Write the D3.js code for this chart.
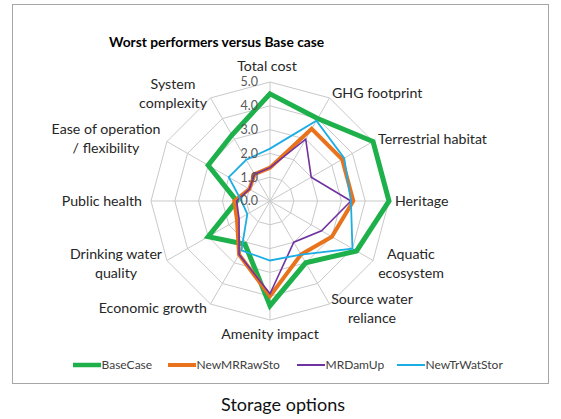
<!DOCTYPE html>
<html>
<head>
<meta charset="utf-8">
<script src="https://cdn.jsdelivr.net/npm/d3@7"></script>
<style>
  html, body { margin: 0; padding: 0; background: #fff; }
  svg { display: block; }
  text { font-family: Lato, "Open Sans", sans-serif; }
</style>
</head>
<body>
<svg id="chart" width="561" height="419"></svg>
<script>
const categories = [
  ["Total cost"],
  ["GHG footprint"],
  ["Terrestrial habitat"],
  ["Heritage"],
  ["Aquatic", "ecosystem"],
  ["Source water", "reliance"],
  ["Amenity impact"],
  ["Economic growth"],
  ["Drinking water", "quality"],
  ["Public health"],
  ["Ease of operation", "/ flexibility"],
  ["System", "complexity"]
];
const seriesNames = ["BaseCase", "NewMRRawSto", "MRDamUp", "NewTrWatStor"];
const baseCase     = [4.5, 4.0, 5.0, 5.0, 4.2, 3.0, 4.4, 2.1, 3.0, 1.4, 3.0, 3.2];
const newMRRawSto  = [1.4, 3.5, 3.5, 3.5, 3.0, 2.6, 4.0, 2.6, 1.6, 1.5, 1.0, 1.3];
const mrDamUp      = [1.4, 3.0, 2.0, 3.4, 2.5, 2.0, 3.9, 2.6, 1.5, 1.4, 1.0, 1.3];
const newTrWatStor = [2.2, 3.9, 3.6, 3.4, 4.0, 2.6, 2.5, 2.4, 1.1, 1.2, 2.0, 2.0];
const tickValues = [0, 1, 2, 3, 4, 5];
const tickLabels = ["0.0", "1.0", "2.0", "3.0", "4.0", "5.0"];

const seriesData = [baseCase, newMRRawSto, mrDamUp, newTrWatStor];
const colors = ["#1DB04B", "#E8731C", "#7032A0", "#1CADE4"];
const widths = [5, 4, 1.6, 1.8];
const legendWidths = [4.5, 4, 2, 2];

const svg = d3.select("#chart");
const cx = 270, cy = 201;
const r = d3.scaleLinear().domain([0, 5]).range([0, 119]);
const angle = d3.scaleLinear().domain([0, categories.length]).range([0, 2 * Math.PI]);

// frame
svg.append("rect").attr("x", 12.5).attr("y", 4.5).attr("width", 536).attr("height", 379)
  .attr("fill", "#fff").attr("stroke", "#A6A6A6").attr("stroke-width", 1);

// title
svg.append("text").attr("x", 109).attr("y", 47).attr("font-size", 13.8).attr("font-weight", "bold")
  .attr("fill", "#000").text("Worst performers versus Base case");

const g = svg.append("g").attr("transform", `translate(${cx},${cy})`);

const pt = (i, v) => {
  const a = angle(i);
  return [Math.sin(a) * r(v), -Math.cos(a) * r(v)];
};

// grid rings
tickValues.slice(1).forEach(t => {
  g.append("path")
    .attr("d", d3.line()(categories.map((c, i) => pt(i, t))) + "Z")
    .attr("fill", "none").attr("stroke", "#C9C9C9").attr("stroke-width", 1);
});
// spokes
categories.forEach((c, i) => {
  const p = pt(i, 5);
  g.append("line").attr("x1", 0).attr("y1", 0).attr("x2", p[0]).attr("y2", p[1])
    .attr("stroke", "#C9C9C9").attr("stroke-width", 1);
});

// series
const radial = d3.lineRadial()
  .angle((d, i) => angle(i))
  .radius(d => r(d))
  .curve(d3.curveLinearClosed);
seriesData.forEach((s, k) => {
  g.append("path").attr("d", radial(s))
    .attr("fill", "none").attr("stroke", colors[k]).attr("stroke-width", widths[k])
    .attr("stroke-linejoin", "miter");
});

// tick labels
tickValues.forEach((t, i) => {
  g.append("text").attr("x", -12).attr("y", -r(t)).attr("dy", "0.35em")
    .attr("text-anchor", "end").attr("font-size", 12.5).attr("fill", "#595959")
    .text(tickLabels[i]);
});

// category labels (placement by direction)
const labelPos = [
  {x: 267, y: 66, a: "middle"},
  {x: 332, y: 93, a: "start"},
  {x: 378, y: 139, a: "start"},
  {x: 395, y: 201, a: "start"},
  {x: 411, y: 254, a: "middle"},
  {x: 372, y: 299, a: "middle"},
  {x: 270, y: 334, a: "middle"},
  {x: 207, y: 308, a: "end"},
  {x: 116, y: 254, a: "middle"},
  {x: 142, y: 201, a: "end"},
  {x: 106, y: 129, a: "middle"},
  {x: 173, y: 84, a: "middle"}
];
categories.forEach((lines, i) => {
  const lp = labelPos[i];
  const t = svg.append("text").attr("text-anchor", lp.a).attr("font-size", 14.2).attr("fill", "#262626");
  lines.forEach((ln, j) => {
    t.append("tspan").attr("x", lp.x).attr("y", lp.y + j * 19).attr("dy", "0.35em").text(ln);
  });
});

// legend
const legendX = [73, 168, 297, 397];
seriesNames.forEach((n, k) => {
  const lg = svg.append("g").attr("transform", `translate(${legendX[k]},365)`);
  lg.append("line").attr("x1", 0).attr("x2", 28).attr("y1", 0).attr("y2", 0)
    .attr("stroke", colors[k]).attr("stroke-width", legendWidths[k]);
  lg.append("text").attr("x", 28.5).attr("y", 0).attr("dy", "0.35em")
    .attr("font-size", 12).attr("fill", "#404040").text(n);
});

// caption
svg.append("text").attr("x", 283).attr("y", 405).attr("dy", "0.35em").attr("text-anchor", "middle")
  .attr("font-size", 18).attr("fill", "#111").text("Storage options");
</script>
</body>
</html>
